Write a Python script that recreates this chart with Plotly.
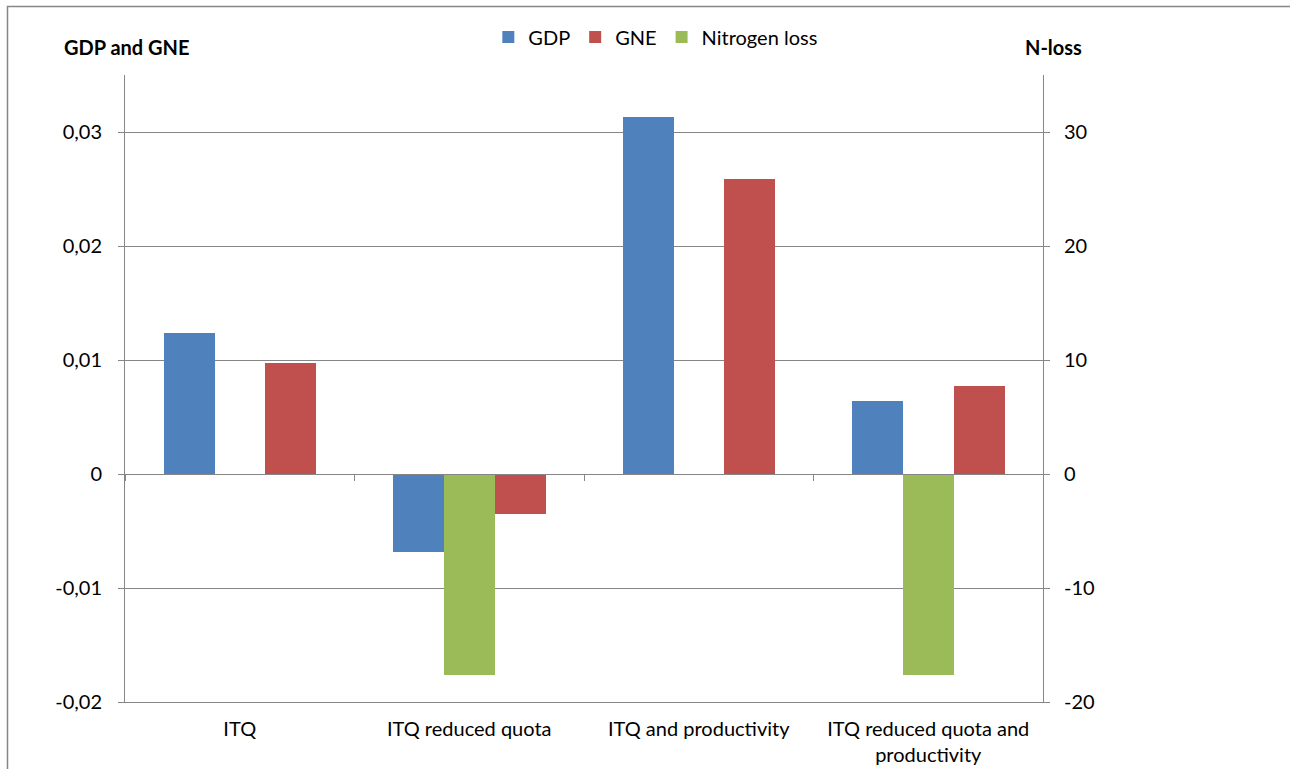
import plotly.graph_objects as go

categories = ["ITQ", "ITQ reduced quota", "ITQ and productivity", "ITQ reduced quota and<br>productivity"]
gdp = [0.0124, -0.0068, 0.0313, 0.0064]
gne = [0.0097, -0.0035, 0.0259, 0.0077]
nloss = [0, -17.6, 0, -17.6]

left_ticks = [-0.02, -0.01, 0, 0.01, 0.02, 0.03]
left_text = ["-0,02", "-0,01", "0", "0,01", "0,02", "0,03"]
right_ticks = [-20, -10, 0, 10, 20, 30]
right_text = ["-20", "-10", "0", "10", "20", "30"]

FONT = "Lato"
GRID = "#868686"
W = 0.222
FS = 20

fig = go.Figure()
fig.add_trace(go.Bar(x=categories, y=gdp, name="GDP", marker=dict(color="#4F81BD", line=dict(width=0)),
                     width=W, offset=-0.331, yaxis="y"))
fig.add_trace(go.Bar(x=categories, y=gne, name="GNE", marker=dict(color="#C0504D", line=dict(width=0)),
                     width=W, offset=0.111, yaxis="y"))
fig.add_trace(go.Bar(x=categories, y=nloss, name="Nitrogen loss", marker=dict(color="#9BBB59", line=dict(width=0)),
                     width=W, offset=-0.111, yaxis="y2"))
# invisible trace to hold the zero-line x axis
fig.add_trace(go.Scatter(x=categories, y=[0, 0, 0, 0], xaxis="x2", yaxis="y", mode="markers",
                         marker=dict(opacity=0), showlegend=False, hoverinfo="skip"))

fig.update_layout(
    width=1290, height=769,
    margin=dict(l=125, r=247, t=75, b=67, autoexpand=False),
    paper_bgcolor="white", plot_bgcolor="white",
    font=dict(family=FONT, size=FS, color="black"),
    barmode="overlay",
    bargap=0,
    showlegend=True,
    legend=dict(orientation="h", xref="container", yref="container", x=0.508, y=0.952,
                xanchor="center", yanchor="middle", font=dict(size=FS), itemwidth=30,
                tracegroupgap=0, traceorder="normal"),
    xaxis=dict(type="category", range=[-0.5, 3.5], showgrid=False, showline=True, linecolor=GRID,
               linewidth=1, ticks="", tickfont=dict(size=FS), zeroline=False, mirror=False,
               ticklabelstandoff=9, automargin=False),
    xaxis2=dict(type="category", overlaying="x", range=[-0.5, 3.5], anchor="free", position=0.02 / 0.055,
                showline=True, linecolor=GRID, linewidth=1, ticks="outside", ticklen=6, tickcolor=GRID,
                tickson="boundaries", showticklabels=False, showgrid=False, zeroline=False, automargin=False),
    yaxis=dict(range=[-0.02, 0.035], tickvals=left_ticks, ticktext=left_text, showgrid=True,
               gridcolor=GRID, gridwidth=1, showline=True, linecolor=GRID, linewidth=1,
               ticks="outside", ticklen=6, tickcolor=GRID, zeroline=False, tickfont=dict(size=FS),
               ticklabelstandoff=12, automargin=False),
    yaxis2=dict(range=[-20, 35], tickvals=right_ticks, ticktext=right_text, overlaying="y", side="right",
                showgrid=False, showline=True, linecolor=GRID, linewidth=1, ticks="outside", ticklen=6,
                tickcolor=GRID, zeroline=False, tickfont=dict(size=FS), ticklabelstandoff=10, automargin=False),
    annotations=[
        dict(text="<b>GDP and GNE</b>", xref="paper", yref="paper", x=(62 - 125) / 918, y=(702 - 47) / 627,
             xanchor="left", yanchor="middle", showarrow=False, font=dict(size=FS)),
        dict(text="<b>N-loss</b>", xref="paper", yref="paper", x=(1023 - 125) / 918, y=(702 - 47) / 627,
             xanchor="left", yanchor="middle", showarrow=False, font=dict(size=FS)),
    ],
    shapes=[
        dict(type="rect", xref="paper", yref="paper", x0=(7.5 - 125) / 918, x1=(1300 - 125) / 918,
             y0=(702 - 780) / 627, y1=(702 - 6.5) / 627, line=dict(color="#868686", width=1.5),
             fillcolor="rgba(0,0,0,0)", layer="below"),
    ],
)

fig.write_html("out.html")
